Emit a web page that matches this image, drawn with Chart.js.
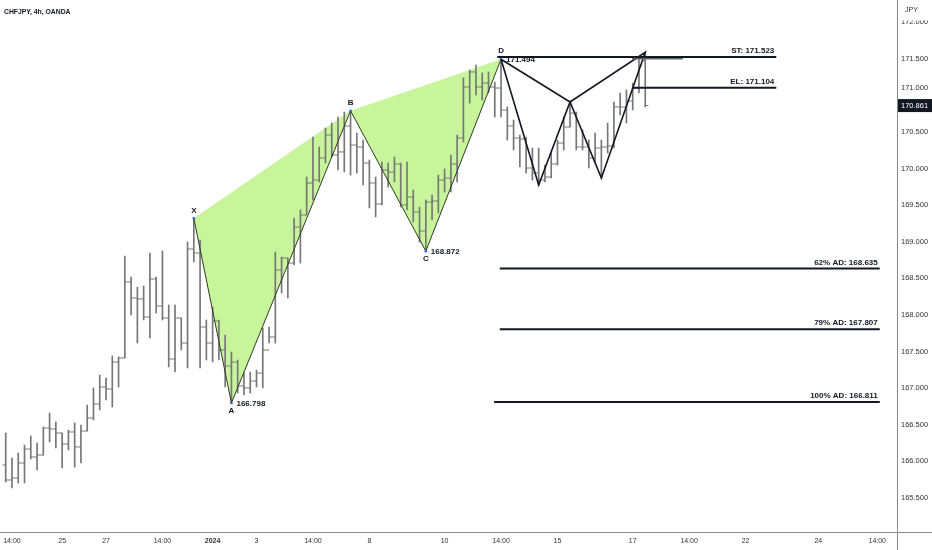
<!DOCTYPE html>
<html lang="en">
<head>
<meta charset="UTF-8">
<title>CHFJPY, 4h, OANDA</title>
<script src="https://cdn.jsdelivr.net/npm/chart.js"></script>
<style>
    html, body { margin: 0; padding: 0; background: #fff; }
    #wrap { width: 932px; height: 550px; position: relative; }
</style>
</head>
<body>
<div id="wrap"><canvas id="chart" width="932" height="550"></canvas></div>
<script>
// 4h OHLC bars, index 0 = first visible bar
const opens = [165.951,165.746,165.773,165.978,166.169,166.060,166.087,166.456,166.443,166.388,
    166.238,166.402,166.197,166.415,166.593,166.784,167.016,166.989,167.358,167.413,
    168.451,168.232,168.219,167.973,168.492,168.123,167.959,167.399,167.959,167.617,
    168.902,168.847,167.836,167.617,167.918,167.522,167.303,167.358,167.030,167.003,
    167.098,167.207,167.522,167.699,168.615,168.778,168.710,169.202,169.366,169.803,
    169.844,170.145,170.459,170.186,170.227,170.582,170.322,170.295,170.076,169.803,
    169.516,169.981,169.953,170.063,169.503,169.612,169.407,169.147,169.543,169.557,
    169.844,169.871,170.063,170.418,171.115,171.320,171.115,171.169,171.115,171.101,
    170.800,170.582,170.418,170.404,170.008,169.940,169.844,169.885,170.063,170.349,
    170.568,170.759,170.295,170.295,170.145,170.281,170.295,170.309,170.842,170.842,
    170.923,171.101,171.470];
const highs = [166.388,166.046,166.115,166.224,166.347,166.251,166.470,166.661,166.538,166.388,
    166.429,166.525,166.497,166.770,167.003,167.180,167.139,167.440,167.426,168.806,
    168.519,168.382,168.396,168.847,168.519,168.874,168.137,168.137,167.959,168.997,
    169.325,169.024,167.932,168.109,167.932,167.727,167.494,167.385,167.207,167.221,
    167.248,167.822,167.836,168.860,168.792,168.778,169.325,169.434,169.885,170.431,
    170.295,170.554,170.623,170.705,170.773,170.787,170.486,170.390,170.117,169.885,
    170.090,170.076,170.158,170.076,170.090,169.707,169.475,169.571,169.639,169.912,
    169.994,170.186,170.459,171.238,171.347,171.415,171.306,171.320,171.183,171.494,
    170.842,170.664,170.459,170.431,170.281,170.281,170.049,170.213,170.390,170.705,
    170.910,170.773,170.527,170.390,170.486,170.390,170.623,170.910,171.033,171.074,
    171.169,171.525,171.590];
const lows = [165.719,165.637,165.705,165.705,166.033,165.883,166.087,166.265,166.183,165.910,
    166.156,165.923,165.978,166.415,166.565,166.702,166.839,166.743,167.016,167.413,
    168.000,167.617,167.932,167.686,168.027,167.932,167.290,167.221,167.522,167.276,
    168.724,167.276,167.385,167.358,167.385,167.016,166.798,166.934,166.907,166.934,
    167.016,167.003,167.617,167.617,168.300,168.232,168.686,168.710,169.366,169.571,
    169.817,170.076,170.158,169.981,169.953,169.912,169.940,169.776,169.462,169.339,
    169.503,169.748,169.817,169.475,169.434,169.270,168.997,168.872,169.298,169.393,
    169.680,169.680,169.817,170.363,170.896,171.005,170.937,171.033,170.705,170.705,
    170.390,170.254,170.022,169.940,169.844,169.776,169.817,169.871,170.049,170.254,
    170.568,170.254,170.254,170.008,170.076,169.872,170.213,170.281,170.732,170.623,
    170.800,171.033,170.842];
const closes = [165.746,165.773,165.978,166.169,166.060,166.087,166.456,166.443,166.388,166.238,
    166.402,166.197,166.415,166.593,166.784,167.016,166.989,167.358,167.413,168.451,
    168.232,168.219,167.973,168.492,168.123,167.959,167.399,167.959,167.617,168.902,
    168.847,167.836,167.617,167.918,167.522,167.303,167.358,167.030,167.003,167.098,
    167.207,167.522,167.699,168.615,168.778,168.710,169.202,169.366,169.803,169.844,
    170.145,170.459,170.186,170.227,170.582,170.322,170.295,170.076,169.803,169.516,
    169.981,169.953,170.063,169.503,169.612,169.407,169.147,169.543,169.557,169.844,
    169.871,170.063,170.418,171.115,171.320,171.115,171.169,171.115,171.101,170.800,
    170.582,170.418,170.404,170.008,169.940,169.844,169.885,170.063,170.349,170.568,
    170.759,170.295,170.295,170.145,170.281,170.295,170.309,170.842,170.842,170.923,
    171.101,171.402,170.861];
const lastPrice = 170.861;

// filled XABCD pattern (bar index, price)
const patNames = ['X', 'A', 'B', 'C', 'D'];
const patIdx = [30, 36, 55, 67, 79];
const patPrice = [169.321, 166.798, 170.790, 168.872, 171.494];
const patValueText = ['', '166.798', '', '168.872', '171.494'];

// second (outline) pattern
const bat2Idx = [79, 85, 90, 95, 102];
const bat2Price = [171.494, 169.776, 170.910, 169.872, 171.590];

// horizontal levels
const levelNames = ['ST: 171.523', 'EL: 171.104', '62% AD: 168.635', '79% AD: 167.807', '100% AD: 166.811'];
const levelPrice = [171.523, 171.104, 168.635, 167.807, 166.811];
const levelFrom = [78.4, 100.0, 78.8, 78.8, 77.9];
const levelTo = [122.9, 122.9, 139.4, 139.4, 139.4];
const ghostFrom = 99.9, ghostTo = 108.0, ghostPrice = 171.500;

// axes
const timeTickIdx = [1, 9, 16, 25, 33, 40, 49, 58, 70, 79, 88, 100, 109, 118, 129.6, 139];
const timeTickText = ['14:00', '25', '27', '14:00', '2024', '3', '14:00', '8', '10', '14:00', '15', '17', '14:00', '22', '24', '14:00'];
const priceTicks = [165.5, 166.0, 166.5, 167.0, 167.5, 168.0, 168.5, 169.0, 169.5, 170.0, 170.5, 171.0, 171.5, 172.0];

const FONT = "'Liberation Sans', Arial, sans-serif";
const INK = '#131722';
const BAR = '#767676';

const idx = opens.map((_, i) => i);

// drop the label padding chart.js reserves so the plot fills the canvas
function noPad(s) {
    s.paddingLeft = 0; s.paddingRight = 0; s.paddingTop = 0; s.paddingBottom = 0;
}

// Overlay: titles, pattern labels, level labels, axis decorations
const overlay = {
    id: 'overlay',
    afterDatasetsDraw(chart) {
        const ctx = chart.ctx, xs = chart.scales.x, ys = chart.scales.y;
        ctx.save();
        ctx.fillStyle = INK;
        ctx.font = 'bold 8px ' + FONT;
        patNames.forEach((n, k) => {
            const px = xs.getPixelForValue(patIdx[k]);
            const py = ys.getPixelForValue(patPrice[k]);
            const top = k % 2 === 0;
            ctx.textAlign = 'center';
            ctx.textBaseline = 'middle';
            ctx.fillText(n, px, top ? py - 8 : py + 8);
            if (patValueText[k]) {
                ctx.textAlign = 'left';
                ctx.fillText(patValueText[k], px + 5, py + 1);
            }
        });
        ctx.textAlign = 'right';
        ctx.textBaseline = 'alphabetic';
        levelNames.forEach((n, k) => {
            ctx.fillText(n, xs.getPixelForValue(levelTo[k]) - 2, ys.getPixelForValue(levelPrice[k]) - 4);
        });
        ctx.restore();
    },
    afterDraw(chart) {
        const ctx = chart.ctx, ys = chart.scales.y, area = chart.chartArea;
        ctx.save();
        // axis lines
        ctx.strokeStyle = '#8a8a8a';
        ctx.lineWidth = 1;
        ctx.beginPath();
        ctx.moveTo(Math.round(area.right) + 0.5, 0);
        ctx.lineTo(Math.round(area.right) + 0.5, chart.height);
        ctx.moveTo(0, Math.round(area.bottom) + 0.5);
        ctx.lineTo(chart.width, Math.round(area.bottom) + 0.5);
        ctx.stroke();
        // currency header covering the top tick
        ctx.fillStyle = '#fff';
        ctx.fillRect(area.right + 1, 0, chart.width - area.right, 20.5);
        ctx.fillStyle = '#333';
        ctx.font = '7px ' + FONT;
        ctx.textAlign = 'left';
        ctx.textBaseline = 'middle';
        ctx.fillText('JPY', area.right + 8, 10);
        // 171.000 label pushed up by the price tag
        ctx.font = '7.5px ' + FONT;
        ctx.fillText('171.000', area.right + 4, ys.getPixelForValue(171) - 7);
        // last price tag
        const py = ys.getPixelForValue(lastPrice);
        ctx.fillStyle = INK;
        ctx.fillRect(area.right + 1, py - 6.5, chart.width - area.right - 1, 13);
        ctx.fillStyle = '#fff';
        ctx.fillText(lastPrice.toFixed(3), area.right + 4, py + 0.5);
        // title
        ctx.fillStyle = INK;
        ctx.font = 'bold 6.8px ' + FONT;
        ctx.fillText('CHFJPY, 4h, OANDA', 4, 12);
        ctx.restore();
    }
};

const datasets = [];

// green fill of the XABCD pattern
const fillOrder = [0, 1, 2, 3, 4, 2, 0];
datasets.push({
    type: 'line',
    data: fillOrder.map(k => ({ x: patIdx[k], y: patPrice[k] })),
    fill: 'shape',
    backgroundColor: '#c8f49c',
    borderColor: 'rgba(0,0,0,0)',
    borderWidth: 0,
    pointRadius: 0,
    order: 20
});

// high-low range
datasets.push({
    type: 'bar',
    data: idx.map(i => ({ x: i, y: [lows[i], highs[i]] })),
    backgroundColor: BAR,
    borderWidth: 0,
    barThickness: 1,
    order: 10
});
// open tick (left) and close tick (right)
datasets.push({
    type: 'line',
    showLine: false,
    data: idx.map(i => ({ x: i - 0.24, y: opens[i] })),
    pointStyle: 'line',
    pointRadius: 1.6,
    pointBorderColor: BAR,
    pointBorderWidth: 1,
    order: 9
});
datasets.push({
    type: 'line',
    showLine: false,
    data: idx.map(i => ({ x: i + 0.24, y: closes[i] })),
    pointStyle: 'line',
    pointRadius: 1.6,
    pointBorderColor: BAR,
    pointBorderWidth: 1,
    order: 9
});

// pattern legs
datasets.push({
    type: 'line',
    data: patIdx.map((v, k) => ({ x: v, y: patPrice[k] })),
    borderColor: '#2c3a20',
    borderWidth: 1,
    pointRadius: 1.3,
    pointBackgroundColor: '#2962ff',
    pointBorderWidth: 0,
    fill: false,
    order: 3
});

// second pattern outline
const bat2Order = [0, 1, 2, 3, 4, 2, 0];
datasets.push({
    type: 'line',
    data: bat2Order.map(k => ({ x: bat2Idx[k], y: bat2Price[k] })),
    borderColor: INK,
    borderWidth: 1.6,
    pointRadius: 0,
    fill: false,
    order: 2
});

// level lines
levelPrice.forEach((p, k) => {
    datasets.push({
        type: 'line',
        data: [{ x: levelFrom[k], y: p }, { x: levelTo[k], y: p }],
        borderColor: INK,
        borderWidth: 2,
        pointRadius: 0,
        fill: false,
        order: 1
    });
});
datasets.push({
    type: 'line',
    data: [{ x: ghostFrom, y: ghostPrice }, { x: ghostTo, y: ghostPrice }],
    borderColor: '#666',
    borderWidth: 1.5,
    pointRadius: 0,
    fill: false,
    order: 1
});

new Chart(document.getElementById('chart'), {
    type: 'bar',
    data: { datasets },
    options: {
        responsive: false,
        animation: false,
        layout: { padding: 0, autoPadding: false },
        plugins: { legend: { display: false }, tooltip: { enabled: false } },
        scales: {
            x: {
                type: 'linear',
                min: -0.91,
                max: 142.15,
                offset: false,
                grid: { display: false, drawTicks: false },
                border: { display: false },
                afterBuildTicks: s => { s.ticks = timeTickIdx.map(v => ({ value: v })); },
                afterFit: s => { s.height = 18; noPad(s); },
                ticks: {
                    autoSkip: false,
                    maxRotation: 0,
                    padding: 5,
                    color: '#333',
                    font: c => ({ family: FONT, size: 7, weight: timeTickText[c.index] === '2024' ? 'bold' : 'normal' }),
                    callback: (v, i) => timeTickText[i]
                }
            },
            y: {
                type: 'linear',
                position: 'right',
                min: 165.0355,
                max: 172.3033,
                grid: { display: false, drawTicks: false },
                border: { display: false },
                afterBuildTicks: s => { s.ticks = priceTicks.map(v => ({ value: v })); },
                afterFit: s => { s.width = 35; noPad(s); },
                ticks: {
                    padding: 4,
                    color: '#333',
                    font: { family: FONT, size: 7.5 },
                    callback: v => (v === 171 ? '' : v.toFixed(3))
                }
            }
        }
    },
    plugins: [overlay]
});
</script>
</body>
</html>
